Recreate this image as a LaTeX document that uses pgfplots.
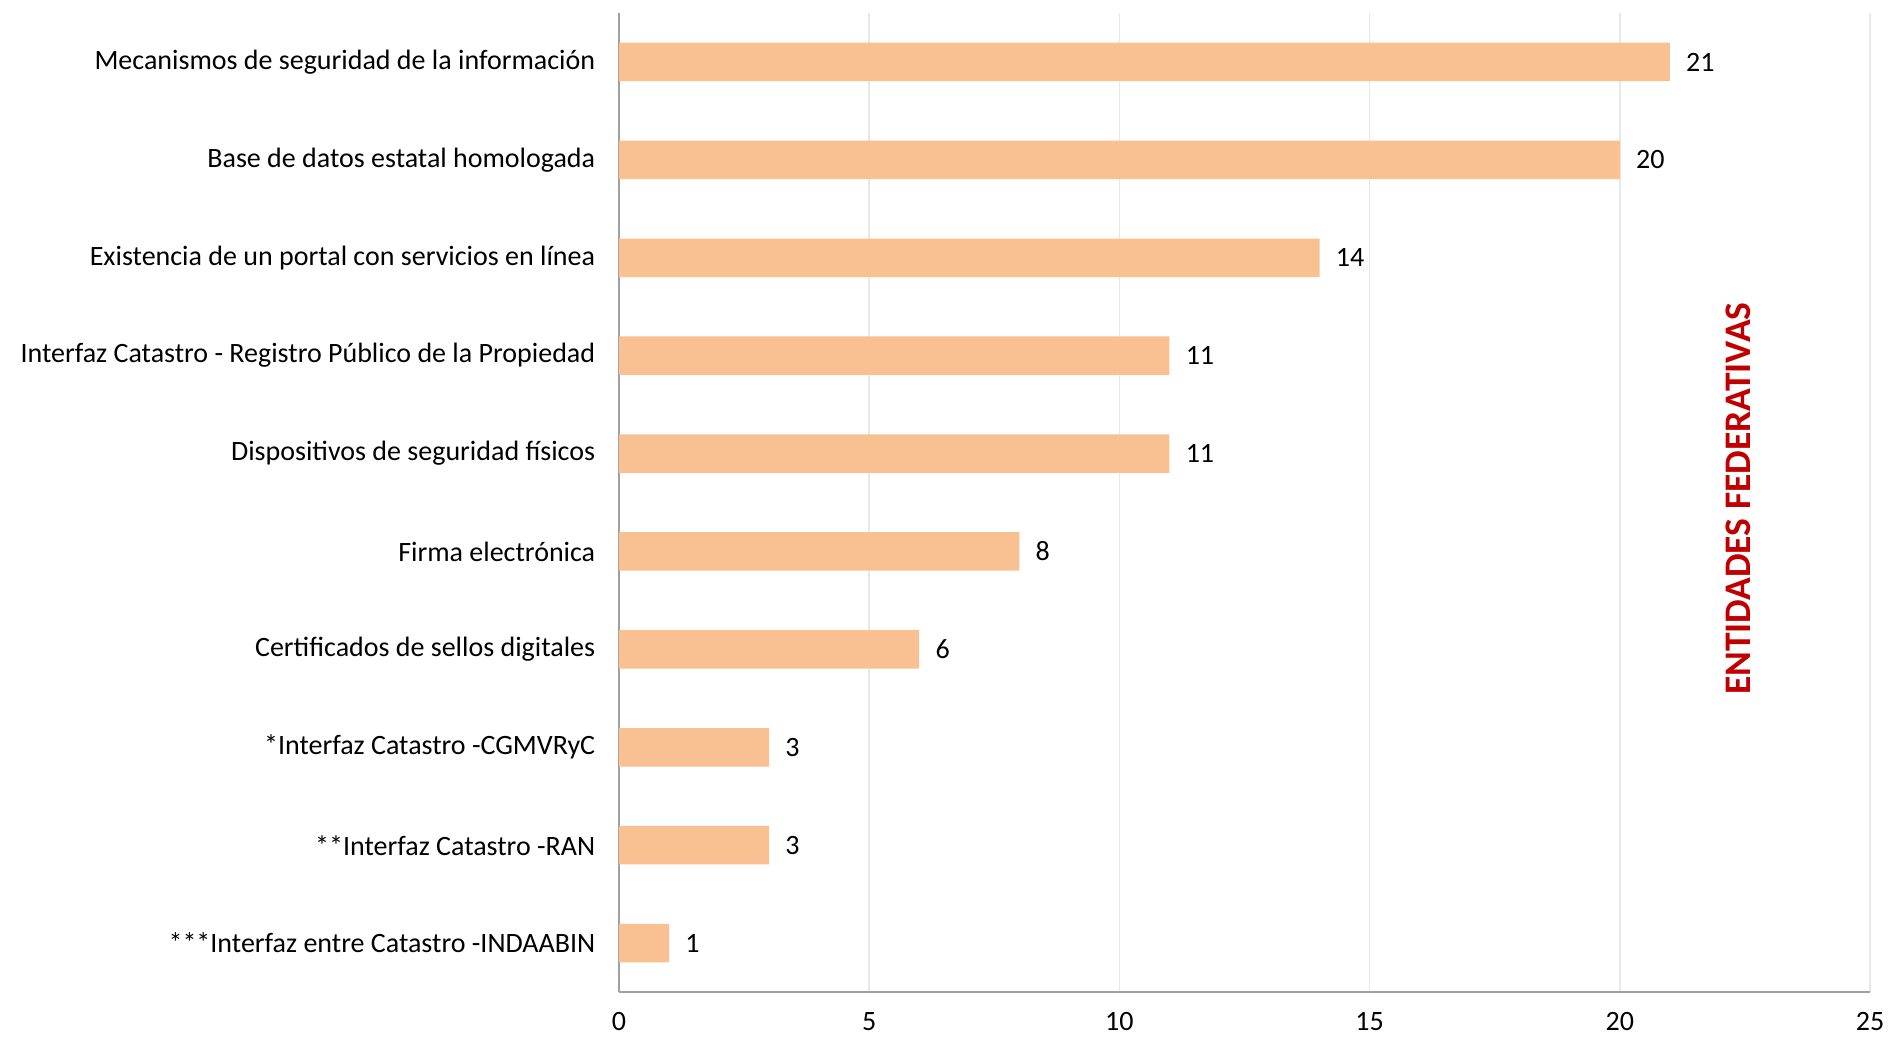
\documentclass[border=0pt]{standalone}
\usepackage{pgfplots}
\pgfplotsset{compat=1.18}
\usepackage{fontspec}
\setmainfont{Carlito}
\definecolor{barfill}{HTML}{F9C191}
\definecolor{titlered}{HTML}{C00000}
\definecolor{gridgray}{HTML}{E8E8E8}
\definecolor{axisgray}{HTML}{A0A0A0}
\begin{document}
\begin{tikzpicture}[x=1pt,y=1pt]
\path[use as bounding box] (0,0) rectangle (755.6,416);
\begin{axis}[
  at={(247.6pt,19.2pt)}, anchor=south west,
  scale only axis,
  width=500.4pt, height=391.6pt,
  xbar, bar width=15.4pt,
  xmin=0, xmax=25,
  ymin=-0.5, ymax=9.5,
  y dir=reverse,
  xtick={0,5,...,25},
  ytick={0,...,9},
  yticklabels={
    Mecanismos de seguridad de la información,
    Base de datos estatal homologada,
    Existencia de un portal con servicios en línea,
    Interfaz Catastro - Registro Público de la Propiedad,
    Dispositivos de seguridad físicos,
    Firma electrónica,
    Certificados de sellos digitales,
    *Interfaz Catastro -CGMVRyC,
    **Interfaz Catastro -RAN,
    ***Interfaz entre Catastro -INDAABIN},
  major tick length=0pt,
  axis x line*=bottom, axis y line*=left,
  axis line style={axisgray, line width=0.8pt},
  x axis line style={-}, y axis line style={-},
  xmajorgrids, grid style={gridgray, line width=0.6pt},
  font=\fontsize{11.2}{13}\selectfont,
  /pgf/number format/assume math mode=true,
  xticklabel style={yshift=-4.5pt},
  yticklabel style={xshift=-6pt},
  nodes near coords,
  every node near coord/.append style={anchor=west, xshift=3pt, black, font=\fontsize{11.2}{13}\selectfont},
  clip=false,
]
\addplot[fill=barfill, draw=none] coordinates {
  (21,0) (20,1) (14,2) (11,3) (11,4) (8,5) (6,6) (3,7) (3,8) (1,9)
};
\node[rotate=90, font=\fontsize{15}{17}\selectfont\bfseries, text=titlered]
  at (rel axis cs:0.895,0.504) {ENTIDADES FEDERATIVAS};
\end{axis}
\end{tikzpicture}
\end{document}
